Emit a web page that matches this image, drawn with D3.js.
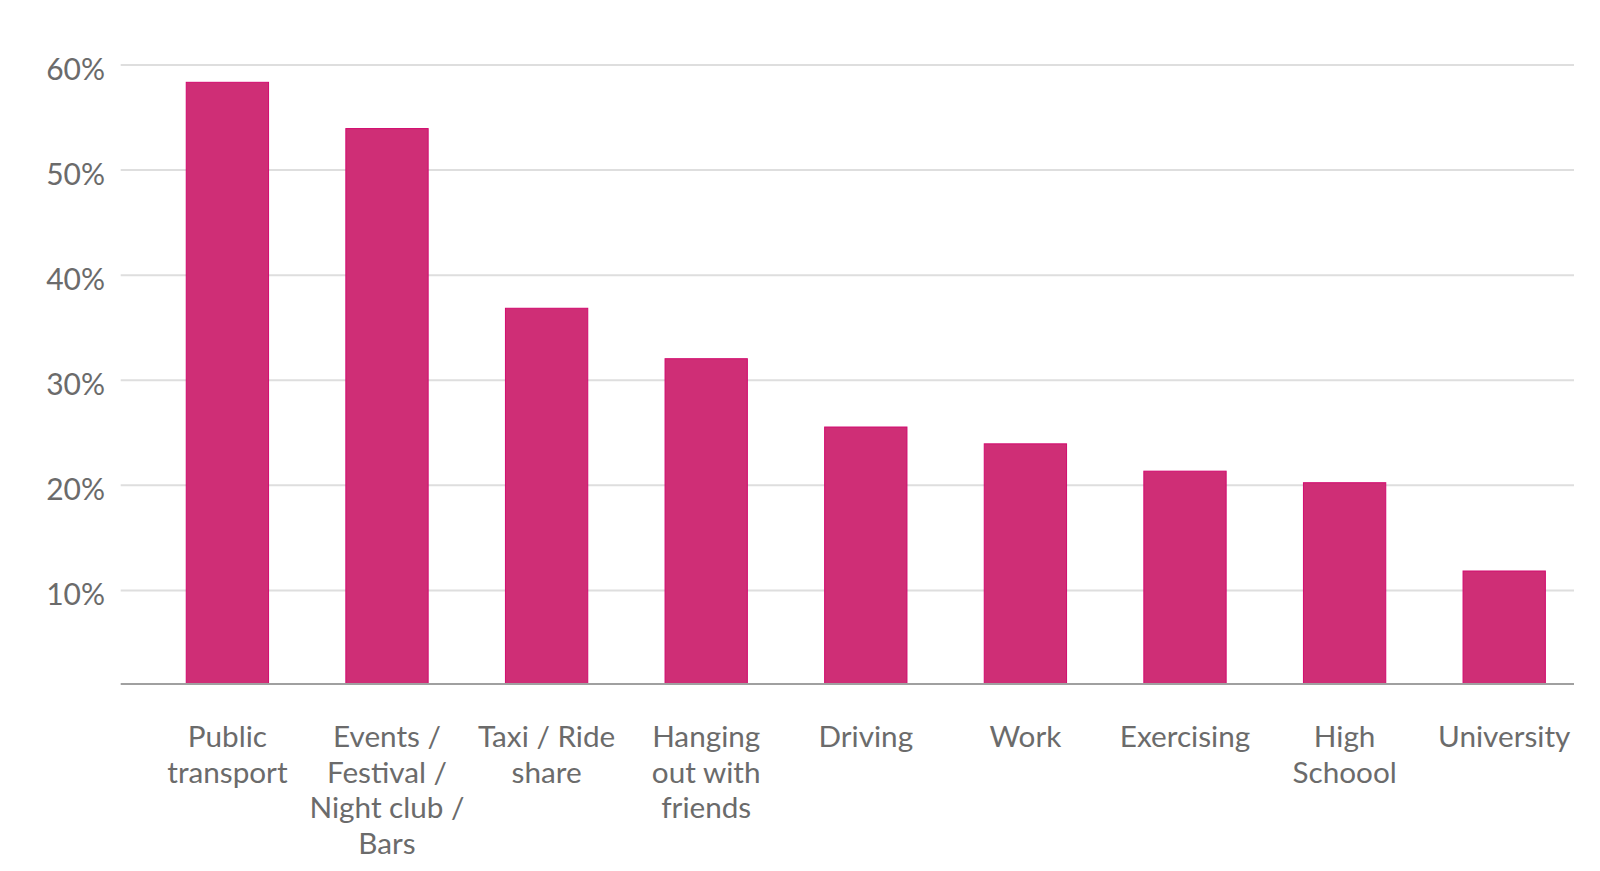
<!DOCTYPE html>
<html>
<head>
<meta charset="utf-8">
<script src="https://cdn.jsdelivr.net/npm/d3@7"></script>
<style>
  html, body { margin: 0; padding: 0; background: #fff; }
  svg { display: block; font-family: Lato, "Noto Sans", sans-serif; }
</style>
</head>
<body>
<svg id="chart" width="1600" height="871"></svg>
<script>
const categories = [
  ["Public", "transport"],
  ["Events /", "Festival /", "Night club /", "Bars"],
  ["Taxi / Ride", "share"],
  ["Hanging", "out with", "friends"],
  ["Driving"],
  ["Work"],
  ["Exercising"],
  ["High", "Schoool"],
  ["University"]
];
const values = [0.584, 0.540, 0.369, 0.321, 0.256, 0.240, 0.214, 0.203, 0.119];
const yTicks = [0.1, 0.2, 0.3, 0.4, 0.5, 0.6];
const yDomain = [0.011, 0.6];

const svg = d3.select("#chart");
const gridLeft = 120.7, gridRight = 1574;
const yBottom = 684, yTop = 65;

const keys = categories.map(c => c.join(" "));
const x = d3.scaleBand()
  .domain(keys)
  .range([147.6, 1584])
  .paddingInner(0.478)
  .paddingOuter(0.239);

const y = d3.scaleLinear().domain(yDomain).range([yBottom, yTop]);

// gridlines
svg.append("g").selectAll("line")
  .data(yTicks)
  .join("line")
  .attr("x1", gridLeft).attr("x2", gridRight)
  .attr("y1", d => y(d)).attr("y2", d => y(d))
  .attr("stroke", "#dedede").attr("stroke-width", 2);

// y labels
const fmt = d3.format(".0%");
svg.append("g").selectAll("text")
  .data(yTicks)
  .join("text")
  .attr("x", 105)
  .attr("y", d => y(d) + 14.5)
  .attr("text-anchor", "end")
  .attr("font-size", 30)
  .attr("fill", "#6b6b6b")
  .text(d => fmt(d));

// bars
svg.append("g").selectAll("rect")
  .data(values)
  .join("rect")
  .attr("x", (d, i) => x(keys[i]) + 0.5)
  .attr("y", d => y(d) + 0.5)
  .attr("width", x.bandwidth() - 1)
  .attr("height", d => y(yDomain[0]) - y(d) - 0.5)
  .attr("fill", "#cf2e76")
  .attr("stroke", "#d20a6e")
  .attr("stroke-width", 1);

// baseline
svg.append("line")
  .attr("x1", gridLeft).attr("x2", gridRight)
  .attr("y1", yBottom).attr("y2", yBottom)
  .attr("stroke", "#a0a0a0").attr("stroke-width", 2);

// x labels
const lbl = svg.append("g").selectAll("text")
  .data(categories)
  .join("text")
  .attr("text-anchor", "middle")
  .attr("font-size", 29.7)
  .attr("fill", "#6b6b6b")
  .attr("transform", (d, i) => `translate(${x(keys[i]) + x.bandwidth() / 2},747)`);
lbl.selectAll("tspan")
  .data(d => d)
  .join("tspan")
  .attr("x", 0)
  .attr("y", (d, j) => j * 35.7)
  .text(d => d);
</script>
</body>
</html>
